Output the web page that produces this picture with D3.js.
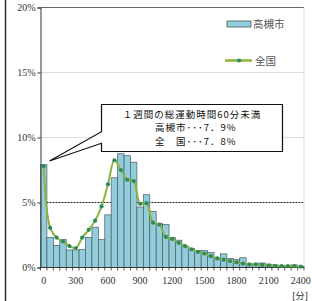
<!DOCTYPE html>
<html><head><meta charset="utf-8">
<script src="https://cdn.jsdelivr.net/npm/d3@7"></script>
<style>html,body{margin:0;padding:0;background:#fff;}svg{display:block;}</style>
</head><body>
<svg id="c" width="312" height="301"></svg>
<script>
const categories = d3.range(0, 2401, 60);
const takatsuki = [7.9, 2.3, 1.7, 2.15, 1.35, 1.35, 1.4, 2.3, 3.1, 2.15, 4.05, 6.9, 8.75, 8.6, 8.1, 4.65, 5.6, 4.3, 3.4, 3.3, 2.3, 2.1, 1.65, 1.45, 1.3, 1.3, 1.15, 0.75, 1.05, 0.7, 0.6, 0.75, 0.12, 0.3, 0.35, 0.25, 0.2, 0.15, 0.17, 0.2, 0.1];
const national = [7.8, 3.05, 2.3, 2.0, 1.65, 1.5, 2.3, 2.9, 3.6, 4.7, 6.4, 8.25, 7.5, 6.75, 6.65, 4.9, 4.95, 3.45, 3.3, 2.35, 2.2, 1.9, 1.65, 1.4, 1.2, 1.07, 0.87, 0.7, 0.6, 0.5, 0.4, 0.3, 0.25, 0.25, 0.2, 0.17, 0.13, 0.1, 0.1, 0.1, 0.06];
const yTicks = [0, 5, 10, 15, 20];
const xLabels = [0, 300, 600, 900, 1200, 1500, 1800, 2100, 2400];
const seriesNames = ["高槻市", "全国"];
const calloutLines = ["１週間の総運動時間60分未満", "高槻市･･･7．9%", "全　国･･･7．8%"];

const svg = d3.select("#c");
const L = 40.5, R = 304, T = 7.5, B = 267.5;
const x = d3.scaleBand().domain(categories).range([L, R]).padding(0);
const y = d3.scaleLinear().domain([0, 20]).range([B, T]);
const serif = "'Liberation Serif', 'Times New Roman', serif";
const cjk = "'Noto Sans CJK JP', sans-serif";

// left frame
svg.append("line").attr("x1", 5.5).attr("x2", 5.5).attr("y1", 0).attr("y2", 301)
  .attr("stroke", "#333").attr("stroke-width", 1.5);

// gridlines
yTicks.forEach(t => {
  if (t === 0) return;
  const g = svg.append("line").attr("x1", L).attr("x2", R)
    .attr("y1", y(t)).attr("y2", y(t));
  if (t === 20) g.attr("stroke", "#666").attr("stroke-width", 1);
  else if (t === 5) g.attr("stroke", "#222").attr("stroke-width", 1).attr("stroke-dasharray", "2,1");
  else g.attr("stroke", "#bbb").attr("stroke-width", 1).attr("stroke-dasharray", "1,1");
});
// right border
svg.append("line").attr("x1", R).attr("x2", R).attr("y1", T).attr("y2", B)
  .attr("stroke", "#ddd").attr("stroke-width", 1);

// bars
svg.append("g").selectAll("rect").data(categories).join("rect")
  .attr("x", (d) => x(d))
  .attr("y", (d, i) => y(takatsuki[i]))
  .attr("width", x.bandwidth())
  .attr("height", (d, i) => B - y(takatsuki[i]))
  .attr("fill", "#92CDDC")
  .attr("stroke", "#4d5a5e").attr("stroke-width", 0.7);

// axes
const yAxis = d3.axisLeft(y).tickValues(yTicks).tickSize(3).tickFormat(d => d + "%");
const gy = svg.append("g").attr("transform", `translate(${L},0)`).call(yAxis);
gy.select(".domain").attr("stroke", "#333");
gy.selectAll(".tick line").attr("stroke", "#333");
gy.selectAll("text").attr("font-family", serif).attr("font-size", 10).attr("fill", "#333").attr("x", -5);

svg.append("line").attr("x1", L).attr("x2", R).attr("y1", B).attr("y2", B).attr("stroke", "#333");
svg.append("g").selectAll("line").data(categories.concat([null])).join("line")
  .attr("x1", (d, i) => L + i * x.step()).attr("x2", (d, i) => L + i * x.step())
  .attr("y1", B).attr("y2", B + 3).attr("stroke", "#333").attr("stroke-width", 0.8);
svg.append("g").selectAll("text").data(xLabels).join("text")
  .attr("x", d => x(d) + x.bandwidth() / 2).attr("y", 284)
  .attr("text-anchor", "middle").attr("font-family", serif).attr("font-size", 10)
  .attr("fill", "#333").text(d => d);
const unit = svg.append("text").attr("x", 300).attr("y", 299).attr("text-anchor", "middle")
  .attr("font-family", serif).attr("font-size", 10).attr("fill", "#333");
unit.append("tspan").text("[");
unit.append("tspan").attr("font-family", cjk).attr("font-size", 9).text("分");
unit.append("tspan").text("]");

// national line
const line = d3.line().x((d, i) => x(categories[i]) + x.bandwidth() / 2).y(d => y(d)).curve(d3.curveCatmullRom.alpha(0.5));
svg.append("path").datum(national).attr("d", line).attr("fill", "none")
  .attr("stroke", "#8DB43E").attr("stroke-width", 2);
svg.append("g").selectAll("circle").data(national).join("circle")
  .attr("cx", (d, i) => x(categories[i]) + x.bandwidth() / 2).attr("cy", d => y(d))
  .attr("r", 2.1).attr("fill", "#2E8C5A");

// callout
svg.append("path")
  .attr("d", "M101.5,104.5 L282.5,104.5 L282.5,151.5 L101.5,151.5 L101.5,143.3 L49.5,161 L101.5,131.7 Z")
  .attr("fill", "#fff").attr("stroke", "#111").attr("stroke-width", 1.2);
svg.append("text").attr("x", 192).attr("y", 117.5).attr("text-anchor", "middle")
  .attr("font-family", cjk).attr("font-size", 9.5).attr("letter-spacing", 1).attr("fill", "#111").text(calloutLines[0]);
svg.append("text").attr("x", 155).attr("y", 131.3)
  .attr("font-family", cjk).attr("font-size", 9.5).attr("letter-spacing", 1).attr("fill", "#111").text(calloutLines[1]);
svg.append("text").attr("x", 155).attr("y", 145.1)
  .attr("font-family", cjk).attr("font-size", 9.5).attr("letter-spacing", 1).attr("fill", "#111").text(calloutLines[2]);

// legend
svg.append("rect").attr("x", 227).attr("y", 21).attr("width", 24).attr("height", 6)
  .attr("fill", "#92CDDC").attr("stroke", "#4d5a5e").attr("stroke-width", 0.8);
svg.append("text").attr("x", 253).attr("y", 28).attr("font-family", cjk).attr("font-size", 10.5)
  .attr("fill", "#555").text(seriesNames[0]);
svg.append("line").attr("x1", 225).attr("x2", 252).attr("y1", 60.5).attr("y2", 60.5)
  .attr("stroke", "#8DB43E").attr("stroke-width", 2.5);
svg.append("circle").attr("cx", 239).attr("cy", 60.5).attr("r", 2.1).attr("fill", "#2E8C5A");
svg.append("text").attr("x", 255).attr("y", 65).attr("font-family", cjk).attr("font-size", 10.5)
  .attr("fill", "#555").text(seriesNames[1]);
</script>
</body></html>
